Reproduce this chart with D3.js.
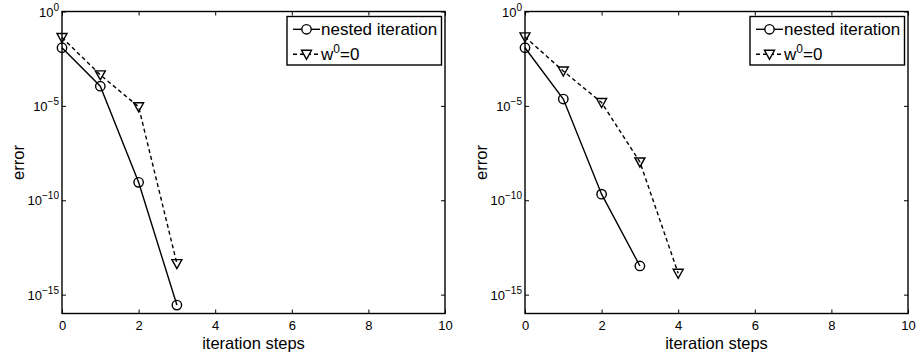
<!DOCTYPE html>
<html>
<head>
<meta charset="utf-8">
<script src="https://cdn.jsdelivr.net/npm/d3@7"></script>
<style>
  body { margin: 0; background: #fff; }
  svg { font-family: "Liberation Sans", Arial, sans-serif; }
</style>
</head>
<body>
<svg width="920" height="354"></svg>
<script>
var steps = [0, 1, 2, 3, 4];
var leftNested = [1.2e-2, 1.1e-4, 8.9e-10, 2.8e-16];
var leftZero = [4.2e-2, 4.4e-4, 9e-6, 4.4e-14];
var rightNested = [1.2e-2, 2.3e-5, 2.1e-10, 3.3e-14];
var rightZero = [4.5e-2, 7e-4, 1.5e-5, 1.07e-8, 1.35e-14];
var xTicks = [0, 2, 4, 6, 8, 10];
var yTicks = [1e0, 1e-5, 1e-10, 1e-15];
var legendNames = ['nested iteration', 'w0=0'];

var svg = d3.select('svg');
var plotTop = 11.5, plotBottom = 313.5, plotW = 383;
var font = 'Liberation Sans, Arial, sans-serif';

function panel(left, nested, zero) {
  var x = d3.scaleLinear().domain([0, 10]).range([left, left + plotW]);
  var y = d3.scaleLog().domain([1e-16, 1]).range([plotBottom, plotTop]);
  var g = svg.append('g');

  // box
  g.append('rect')
    .attr('x', left).attr('y', plotTop).attr('width', plotW).attr('height', plotBottom - plotTop)
    .attr('fill', 'none').attr('stroke', '#000').attr('stroke-width', 1.4);

  var xb = g.append('g').attr('transform', `translate(0,${plotBottom})`)
    .call(d3.axisBottom(x).tickValues(xTicks).tickSize(-4).tickPadding(7).tickFormat(d3.format('d')));
  g.append('g').attr('transform', `translate(0,${plotTop})`)
    .call(d3.axisTop(x).tickValues(xTicks).tickSize(-4).tickFormat(''));
  var yl = g.append('g').attr('transform', `translate(${left},0)`)
    .call(d3.axisLeft(y).tickValues(yTicks).tickSize(-4).tickPadding(3).tickFormat(''));
  g.append('g').attr('transform', `translate(${left + plotW},0)`)
    .call(d3.axisRight(y).tickValues(yTicks).tickSize(-4).tickFormat(''));

  g.selectAll('.domain').remove();
  g.selectAll('.tick line').attr('stroke', '#000').attr('stroke-width', 1);
  xb.selectAll('text').attr('font-size', 13).attr('fill', '#000').attr('font-family', font);

  yl.selectAll('.tick text')
    .attr('font-size', 13).attr('fill', '#000').attr('font-family', font)
    .attr('dy', '0.36em')
    .each(function(d) {
      var t = d3.select(this);
      var e = Math.round(Math.log10(d));
      t.append('tspan').text('10');
      t.append('tspan').attr('font-size', 10).attr('dy', -6).text(e === 0 ? '0' : '\u2212' + (-e));
    });

  // lines
  var line = d3.line().x((d, i) => x(steps[i])).y(d => y(d));
  g.append('path').datum(zero).attr('d', line)
    .attr('fill', 'none').attr('stroke', '#000').attr('stroke-width', 1.4).attr('stroke-dasharray', '4,3');
  g.append('path').datum(nested).attr('d', line)
    .attr('fill', 'none').attr('stroke', '#000').attr('stroke-width', 1.4);

  g.selectAll('circle.m').data(nested).enter().append('circle')
    .attr('cx', (d, i) => x(steps[i])).attr('cy', d => y(d)).attr('r', 4.7)
    .attr('fill', 'none').attr('stroke', '#000').attr('stroke-width', 1.4);
  var tri = 'M-5,-4L5,-4L0,5Z';
  g.selectAll('path.t').data(zero).enter().append('path')
    .attr('d', tri)
    .attr('transform', (d, i) => `translate(${x(steps[i])},${y(d)})`)
    .attr('fill', 'none').attr('stroke', '#000').attr('stroke-width', 1.4);

  // axis labels
  g.append('text')
    .attr('x', left + plotW / 2).attr('y', 349)
    .attr('text-anchor', 'middle').attr('font-size', 16.5).text('iteration steps');
  g.append('text')
    .attr('transform', `translate(${left - 38},${(plotTop + plotBottom) / 2}) rotate(-90)`)
    .attr('text-anchor', 'middle').attr('font-size', 16.5).text('error');

  // legend
  var lx = left + plotW - 158, ly = 16.5;
  var lg = g.append('g');
  lg.append('rect').attr('x', lx).attr('y', ly).attr('width', 154.5).attr('height', 48.5)
    .attr('fill', '#fff').attr('stroke', '#000').attr('stroke-width', 1.4);
  var rows = [{ y: ly + 12.8, dash: null, mark: 'c' }, { y: ly + 37.8, dash: '4,3', mark: 't' }];
  rows.forEach(function(r, i) {
    lg.append('line').attr('x1', lx + 6).attr('x2', lx + 33).attr('y1', r.y).attr('y2', r.y)
      .attr('stroke', '#000').attr('stroke-width', 1.4).attr('stroke-dasharray', r.dash);
    if (r.mark === 'c') {
      lg.append('circle').attr('cx', lx + 19.5).attr('cy', r.y).attr('r', 4.7)
        .attr('fill', '#fff').attr('stroke', '#000').attr('stroke-width', 1.4);
    } else {
      lg.append('path').attr('d', tri).attr('transform', `translate(${lx + 19.5},${r.y})`)
        .attr('fill', '#fff').attr('stroke', '#000').attr('stroke-width', 1.4);
    }
    var t = lg.append('text').attr('x', lx + 34).attr('y', r.y + 6).attr('font-size', 17);
    if (i === 0) t.text(legendNames[0]);
    else {
      t.append('tspan').text('w');
      t.append('tspan').attr('font-size', 12).attr('dy', -7).text('0');
      t.append('tspan').attr('dy', 7).text('=0');
    }
  });
}

panel(62, leftNested, leftZero);
panel(525, rightNested, rightZero);
</script>
</body>
</html>
